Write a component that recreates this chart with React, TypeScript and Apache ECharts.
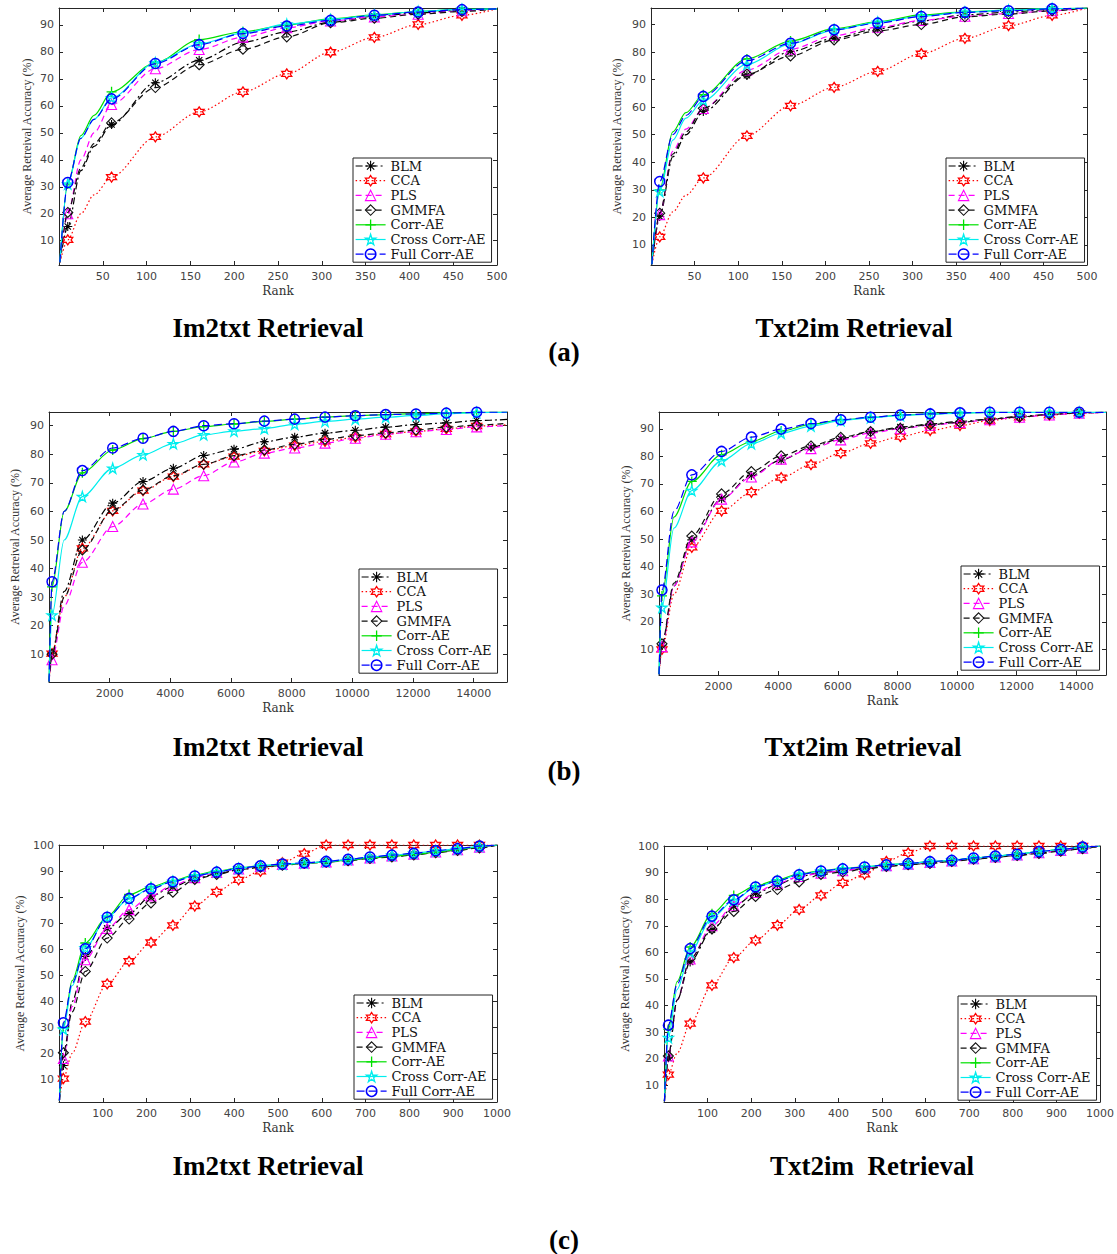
import React, { useEffect, useRef } from "react";
import * as echarts from "echarts";

// ---------------- data ----------------
const methods = ["BLM", "CCA", "PLS", "GMMFA", "Corr-AE", "Cross Corr-AE", "Full Corr-AE"];

// (a) rank 0-500
const rankA = [1, 10, 25, 40, 60, 110, 160, 210, 260, 310, 360, 410, 460, 500];
const markA = [10, 60, 110, 160, 210, 260, 310, 360, 410, 460];
const xTicksA = [50, 100, 150, 200, 250, 300, 350, 400, 450, 500];
const yTicks90 = [10, 20, 30, 40, 50, 60, 70, 80, 90];
const yTicks100 = [10, 20, 30, 40, 50, 60, 70, 80, 90, 100];

const a1BLM = [2, 15.3, 36, 45, 53.1, 68.6, 76.9, 83.6, 87.4, 91, 93.2, 94.5, 95.5, 96];
const a1CCA = [2, 10.3, 20, 27, 33.6, 48.5, 57.8, 65.2, 71.9, 79.9, 85.4, 90.2, 93.6, 96];
const a1PLS = [2, 20, 40, 50, 60.5, 73.8, 80.9, 85.5, 89, 91.5, 93, 94, 95.3, 96];
const a1GMMFA = [2, 20.5, 37, 46, 53.7, 66.8, 75.3, 81, 85.6, 90.8, 92.5, 94, 95, 96];
const a1CorrAE = [2, 31, 49, 56.5, 65.2, 76, 84.6, 87.5, 90, 92.3, 93.8, 95, 95.8, 96];
const a1CrossAE = [2, 31, 48, 55, 63, 76, 83, 87, 90.3, 92, 93.6, 95, 95.8, 96];
const a1FullAE = [2, 31.6, 48, 55, 62.6, 75.7, 82.7, 86.8, 89.6, 91.7, 93.6, 94.8, 95.7, 96];

const a2BLM = [3, 20.3, 42, 50, 58.4, 71.6, 80.2, 85, 88.5, 91.3, 93.5, 94.5, 95.5, 96];
const a2CCA = [3, 12.9, 22, 28, 34.3, 49.6, 60.5, 67.2, 73, 79.4, 85, 89.6, 93.3, 96];
const a2PLS = [3, 21, 44, 52, 59.5, 73.5, 81, 86, 89, 91.5, 93, 94, 95, 96];
const a2GMMFA = [3, 21.5, 43, 51, 59.6, 72, 78.6, 84.4, 87.7, 90, 92.8, 93.8, 95, 96];
const a2CorrAE = [3, 30, 51, 58, 64.5, 77.5, 84, 88.5, 91, 93.5, 94.6, 95.2, 95.8, 96];
const a2CrossAE = [3, 29.4, 48, 56, 62.5, 75.5, 83, 88, 90.8, 93, 94.5, 95.2, 95.8, 96];
const a2FullAE = [3, 33, 50, 57, 63.9, 76.9, 83.2, 88.1, 90.5, 92.9, 94.4, 95, 95.7, 96];

// (b) rank 0-15000
const rankB1 = [1, 100, 500, 1100, 2100, 3100, 4100, 5100, 6100, 7100, 8100, 9100, 10100, 11100, 12100, 13100, 14100, 15100];
const rankB2 = [1, 100, 500, 1100, 2100, 3100, 4100, 5100, 6100, 7100, 8100, 9100, 10100, 11100, 12100, 13100, 14100, 15000];
const markB = [100, 1100, 2100, 3100, 4100, 5100, 6100, 7100, 8100, 9100, 10100, 11100, 12100, 13100, 14100];
const xTicksB = [2000, 4000, 6000, 8000, 10000, 12000, 14000];

const b1BLM = [0.5, 10.2, 32, 50, 62.9, 70.5, 75.1, 79.6, 81.8, 84.4, 86, 87.4, 88.4, 89.5, 90.4, 91, 91.8, 92.2];
const b1CCA = [0.5, 10.2, 30, 47.1, 60.2, 67.3, 72.2, 76.5, 79.2, 81.2, 83, 84.5, 85.9, 87.1, 88, 88.9, 89.9, 90.3];
const b1PLS = [0.5, 8.1, 27, 42.2, 54.7, 62.6, 67.8, 72.5, 77.3, 80.4, 82.2, 83.9, 85.6, 87, 87.9, 88.7, 89.6, 90];
const b1GMMFA = [0.5, 10, 30, 46.5, 60.5, 67.5, 72.5, 76.5, 79.5, 81.5, 83.5, 85.2, 86.5, 87.5, 88.5, 89.5, 90.2, 90.8];
const b1CorrAE = [0.5, 33.6, 60, 73.5, 81.5, 85.5, 88, 89.7, 90.6, 91.5, 92.3, 93, 93.5, 93.9, 94.2, 94.5, 94.7, 94.8];
const b1CrossAE = [0.5, 23.7, 50, 65.2, 75.1, 79.8, 83.7, 86.8, 88.1, 89, 90.5, 91.5, 92.3, 93, 93.6, 94.2, 94.6, 94.7];
const b1FullAE = [0.5, 35.4, 60, 74.3, 82.2, 85.6, 88, 90, 90.7, 91.6, 92.3, 93, 93.5, 93.9, 94.1, 94.4, 94.7, 94.8];

const b2BLM = [1, 11.5, 33, 49.7, 64.6, 73.1, 78.7, 83.3, 86.4, 88.9, 90.6, 91.7, 92.7, 93.5, 94.5, 95.2, 95.8, 96];
const b2CCA = [1, 10, 30, 47, 60.2, 67, 72.3, 77, 81.2, 84.7, 87.2, 89.4, 91.2, 93, 94.2, 95, 95.7, 96];
const b2PLS = [1, 11, 33, 49, 64.5, 72.5, 79, 82.8, 86, 88.5, 90, 91.3, 92.3, 93.3, 94.2, 95, 95.7, 96];
const b2GMMFA = [1, 12, 34, 51.1, 66.4, 74.5, 80.2, 83.8, 86.9, 89, 90.2, 91.5, 92.3, 93.5, 94.3, 95.2, 95.8, 96];
const b2CorrAE = [1, 29.4, 58, 70.9, 80.6, 85.4, 89.2, 91.6, 93.2, 94.1, 95, 95.4, 95.8, 96, 96, 96, 96, 96];
const b2CrossAE = [1, 25.2, 54, 67.6, 78.4, 84.6, 88.4, 91, 93, 94, 94.8, 95.3, 95.7, 96, 96, 96, 96, 96];
const b2FullAE = [1, 31.5, 60, 73.3, 81.8, 87, 89.9, 91.9, 93.3, 94.2, 95, 95.4, 95.8, 96, 96, 96, 96, 96];

// (c) rank 0-1000
const rankC = [1, 10, 30, 60, 110, 160, 210, 260, 310, 360, 410, 460, 510, 560, 610, 660, 710, 760, 810, 860, 910, 960, 1000];
const markC = [10, 60, 110, 160, 210, 260, 310, 360, 410, 460, 510, 560, 610, 660, 710, 760, 810, 860, 910, 960];
const xTicksC = [100, 200, 300, 400, 500, 600, 700, 800, 900, 1000];

const c1BLM = [2, 15.4, 40, 57.2, 68, 73.7, 80.4, 84, 87, 89, 90.5, 91.5, 92.2, 93, 93.5, 94.2, 95, 95.5, 96.3, 97.2, 98, 99, 100];
const c1CCA = [2, 10.4, 20, 32.2, 46.7, 55.4, 62.6, 69.2, 76.6, 82, 86.6, 89.9, 93.2, 96.7, 100, 100, 100, 100, 100, 100, 100, 100, 100];
const c1PLS = [2, 18.1, 38, 56, 68, 75.2, 80.5, 84.5, 87.5, 89.5, 90.8, 91.8, 92.5, 93, 93.5, 94.3, 95, 95.8, 96.5, 97.3, 98.2, 99.2, 100];
const c1GMMFA = [2, 20.3, 36, 51.5, 64.3, 71.6, 77.8, 81.9, 86.8, 88.7, 90.5, 91.5, 92.2, 93, 93.4, 94, 94.8, 95.4, 96.2, 97, 97.9, 98.9, 100];
const c1CorrAE = [2, 30, 48, 62.4, 72.5, 81, 84, 86.3, 88.5, 90, 91.2, 92, 92.5, 93, 93.5, 94.2, 95, 95.7, 96.4, 97.2, 98.2, 99.3, 100];
const c1CrossAE = [2, 29.3, 46, 60.5, 72.3, 79.3, 83.5, 86, 88.2, 89.7, 91, 92, 92.6, 93.1, 93.6, 94.4, 95.4, 96.1, 96.8, 97.7, 98.5, 99.5, 100];
const c1FullAE = [2, 31.8, 47, 60.2, 72.3, 79.5, 83.2, 85.9, 88.1, 89.6, 91, 92, 92.7, 93.2, 93.7, 94.5, 95.4, 96.1, 96.8, 97.8, 98.6, 99.6, 100];

const c2BLM = [4, 20.3, 42, 56.4, 68.5, 77.3, 82.1, 85.5, 88.5, 90, 90.8, 91.5, 92.5, 93, 93.6, 94.3, 95, 95.8, 96.5, 97.4, 98.2, 99, 100];
const c2CCA = [4, 14, 22, 33.2, 47.6, 58, 64.5, 70.2, 76.1, 81.4, 86.1, 89.3, 94.2, 97.4, 100, 100, 100, 100, 100, 100, 100, 100, 100];
const c2PLS = [4, 21, 42, 57.5, 70, 77.5, 82.5, 86, 88.5, 89.8, 90.7, 91.7, 92.6, 93.2, 93.8, 94.4, 95.2, 95.9, 96.6, 97.5, 98.3, 99.2, 100];
const c2GMMFA = [4, 21, 42, 57.6, 68.8, 75.4, 81, 83.6, 86.5, 89.3, 90.2, 91.3, 92.3, 93, 93.4, 94.2, 95, 95.7, 96.4, 97.2, 98, 99, 100];
const c2CorrAE = [4, 31, 49, 62, 74.5, 81.4, 85, 87.3, 89.5, 90.7, 91.5, 92.2, 92.9, 93.4, 94.1, 94.6, 95.5, 96.2, 96.9, 97.9, 98.7, 99.6, 100];
const c2CrossAE = [4, 27.9, 46, 60, 73, 79.5, 84.5, 86.8, 89.3, 90.6, 91.4, 92.1, 92.9, 93.4, 94.1, 94.6, 95.5, 96.2, 96.9, 97.9, 98.7, 99.6, 100];
const c2FullAE = [4, 32.6, 48, 61.4, 73.6, 79.8, 84.6, 86.8, 89.2, 90.6, 91.4, 92.1, 92.9, 93.4, 94.1, 94.6, 95.5, 96.2, 96.9, 97.9, 98.7, 99.6, 100];

const titleLeft = "Im2txt Retrieval";
const titleRight = ["Txt2im Retrieval", "Txt2im Retrieval", "Txt2im  Retrieval"];
const subLabels = ["(a)", "(b)", "(c)"];

// ---------------- styling ----------------
function starPath(n: number, inner: number) {
  const pts: string[] = [];
  for (let k = 0; k < 2 * n; k++) {
    const a = -Math.PI / 2 + (k * Math.PI) / n;
    const r = k % 2 === 0 ? 1 : inner;
    pts.push((5 + 5 * r * Math.cos(a)).toFixed(2) + " " + (5 + 5 * r * Math.sin(a)).toFixed(2));
  }
  return "path://M" + pts.join("L") + "Z";
}

const styles = [
  { color: "#000000", type: [7, 3, 2, 3], symbol: "path://M5 0L5 10M0 5L10 5M1.5 1.5L8.5 8.5M1.5 8.5L8.5 1.5", size: 9, bw: 1.1 },
  { color: "#ff0000", type: [1.5, 2.5], symbol: starPath(6, 0.577), size: 10, bw: 1.3 },
  { color: "#ff00ff", type: [6, 4], symbol: "triangle", size: 10, bw: 1.1 },
  { color: "#111111", type: [6, 4], symbol: "diamond", size: 10, bw: 1.1 },
  { color: "#00e000", type: "solid", symbol: "path://M5 0L5 10M0 5L10 5", size: 10, bw: 1.3 },
  { color: "#00eeee", type: "solid", symbol: starPath(5, 0.382), size: 10, bw: 1.3 },
  { color: "#0000ff", type: [8, 4], symbol: "circle", size: 10, bw: 1.5 },
];

const panels = [
  { rank: rankA, marks: markA, ys: [a1BLM, a1CCA, a1PLS, a1GMMFA, a1CorrAE, a1CrossAE, a1FullAE],
    l: 59, t: 8, w: 438, h: 257, xMin: 0, xMax: 500, xTicks: xTicksA, yMin: 1, yMax: 96.3, yTicks: yTicks90,
    lgL: 353, lgT: 158, yGap: 26 },
  { rank: rankA, marks: markA, ys: [a2BLM, a2CCA, a2PLS, a2GMMFA, a2CorrAE, a2CrossAE, a2FullAE],
    l: 651, t: 8, w: 436, h: 257, xMin: 0, xMax: 500, xTicks: xTicksA, yMin: 2.7, yMax: 96, yTicks: yTicks90,
    lgL: 946, lgT: 158, yGap: 28 },
  { rank: rankB1, marks: markB, ys: [b1BLM, b1CCA, b1PLS, b1GMMFA, b1CorrAE, b1CrossAE, b1FullAE],
    l: 49, t: 412, w: 458, h: 270, xMin: 0, xMax: 15100, xTicks: xTicksB, yMin: 0.3, yMax: 94.8, yTicks: yTicks90,
    lgL: 359, lgT: 569, yGap: 28 },
  { rank: rankB2, marks: markB, ys: [b2BLM, b2CCA, b2PLS, b2GMMFA, b2CorrAE, b2CrossAE, b2FullAE],
    l: 659, t: 412, w: 447, h: 263, xMin: 0, xMax: 15000, xTicks: xTicksB, yMin: 0.7, yMax: 96.1, yTicks: yTicks90,
    lgL: 961, lgT: 566, yGap: 27 },
  { rank: rankC, marks: markC, ys: [c1BLM, c1CCA, c1PLS, c1GMMFA, c1CorrAE, c1CrossAE, c1FullAE],
    l: 59, t: 845, w: 438, h: 257, xMin: 0, xMax: 1000, xTicks: xTicksC, yMin: 1.4, yMax: 100, yTicks: yTicks100,
    lgL: 354, lgT: 995, yGap: 33 },
  { rank: rankC, marks: markC, ys: [c2BLM, c2CCA, c2PLS, c2GMMFA, c2CorrAE, c2CrossAE, c2FullAE],
    l: 664, t: 846, w: 437, h: 256, xMin: 0, xMax: 1000, xTicks: xTicksC, yMin: 3.7, yMax: 100, yTicks: yTicks100,
    lgL: 958, lgT: 996, yGap: 33 },
];

const AXIS_COLOR = "#262626";
const LABEL_FONT = "DejaVu Sans";
const SERIF = "Liberation Serif";
const plain = (v: number) => String(v);

function buildOption() {
  const grid = panels.map((p) => ({ left: p.l, top: p.t, width: p.w, height: p.h, containLabel: false }));
  const xAxis: any[] = [];
  const yAxis: any[] = [];
  panels.forEach((p, i) => {
    const tickBase = { show: true, inside: true, length: 4, lineStyle: { color: AXIS_COLOR, width: 1 } };
    const lineBase = { show: true, onZero: false, lineStyle: { color: AXIS_COLOR, width: 1 } };
    xAxis.push({
      gridIndex: i, type: "value", position: "bottom", min: p.xMin, max: p.xMax,
      axisLine: lineBase,
      axisTick: { ...tickBase, customValues: p.xTicks },
      axisLabel: { show: true, customValues: p.xTicks, formatter: plain, margin: 6, fontSize: 11, fontFamily: LABEL_FONT, color: "#444" },
      splitLine: { show: false },
      name: "Rank", nameLocation: "middle", nameGap: 20,
      nameTextStyle: { fontFamily: "DejaVu Serif", fontSize: 12, color: "#333" },
    });
    xAxis.push({
      gridIndex: i, type: "value", position: "top", min: p.xMin, max: p.xMax,
      axisLine: lineBase,
      axisTick: { ...tickBase, customValues: p.xTicks },
      axisLabel: { show: false },
      splitLine: { show: false },
    });
    yAxis.push({
      gridIndex: i, type: "value", position: "left", min: p.yMin, max: p.yMax,
      axisLine: lineBase,
      axisTick: { ...tickBase, customValues: p.yTicks },
      axisLabel: { show: true, customValues: p.yTicks, formatter: plain, margin: 5, fontSize: 11, fontFamily: LABEL_FONT, color: "#444" },
      splitLine: { show: false },
      name: "Average Retreival Accuracy (%)", nameLocation: "middle", nameGap: p.yGap,
      nameTextStyle: { fontFamily: SERIF, fontSize: 12, color: "#333" },
    });
    yAxis.push({
      gridIndex: i, type: "value", position: "right", min: p.yMin, max: p.yMax,
      axisLine: lineBase,
      axisTick: { ...tickBase, customValues: p.yTicks },
      axisLabel: { show: false },
      splitLine: { show: false },
    });
  });

  const series: any[] = [];
  panels.forEach((p, i) => {
    methods.forEach((m, j) => {
      const st = styles[j];
      const data = p.rank.map((x, k) =>
        p.marks.indexOf(x) >= 0 ? [x, p.ys[j][k]] : { value: [x, p.ys[j][k]], symbol: "none" }
      );
      series.push({
        name: m, type: "line", xAxisIndex: 2 * i, yAxisIndex: 2 * i, data,
        smooth: 0.3, smoothMonotone: "x",
        symbol: st.symbol, symbolSize: st.size, showAllSymbol: true,
        lineStyle: { color: st.color, width: 1.2, type: st.type },
        itemStyle: { color: "rgba(255,255,255,0)", borderColor: st.color, borderWidth: st.bw },
        emphasis: { disabled: true },
        z: 2 + j * 0.01,
      });
    });
  });

  const legend = panels.map((p) => ({
    orient: "vertical", left: p.lgL, top: p.lgT,
    data: methods.map((m, j) => ({
      name: m,
      itemStyle: { color: "rgba(255,255,255,0)", borderColor: styles[j].color, borderWidth: styles[j].bw },
      lineStyle: { color: styles[j].color, width: 1.2, type: styles[j].type as any },
    })),
    itemWidth: 30, itemHeight: 13, itemGap: 0.7, padding: [1, 6, 1, 2],
    borderColor: "#222", borderWidth: 1, backgroundColor: "#fff",
    selectedMode: false,
    textStyle: { fontFamily: "DejaVu Serif", fontSize: 13, lineHeight: 14, color: "#111" },
  }));

  const titleStyle = { fontSize: 27, fontWeight: "bold", fontFamily: SERIF, fill: "#000", align: "center", verticalAlign: "middle" };
  const rows = [
    { ty: 328, sy: 352, rx: 854 },
    { ty: 747, sy: 771, rx: 863 },
    { ty: 1166, sy: 1240, rx: 872 },
  ];
  const graphic: any[] = [];
  rows.forEach((r, i) => {
    graphic.push({ type: "text", x: 268, y: r.ty, style: { ...titleStyle, text: titleLeft } });
    graphic.push({ type: "text", x: r.rx, y: r.ty, style: { ...titleStyle, text: titleRight[i] } });
    graphic.push({ type: "text", x: 564, y: r.sy, style: { ...titleStyle, text: subLabels[i] } });
  });

  return { animation: false, backgroundColor: "#ffffff", grid, xAxis, yAxis, series, legend, graphic };
}

export default function App() {
  const ref = useRef<HTMLDivElement>(null);
  useEffect(() => {
    if (!ref.current) return;
    const chart = echarts.init(ref.current, undefined, { renderer: "svg" });
    chart.setOption(buildOption() as any);
    return () => chart.dispose();
  }, []);
  return (
    <div
      ref={ref}
      style={{ position: "absolute", left: 0, top: 0, width: 1117, height: 1254, background: "#fff" }}
    />
  );
}
